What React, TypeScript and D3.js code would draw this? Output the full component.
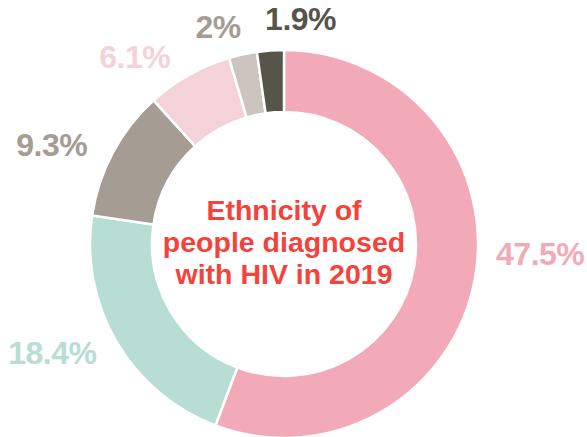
import * as React from "react";
import * as d3 from "d3";

// slice order: clockwise from 12 o'clock
const groups = ["Black African", "White", "Other / mixed", "Asian", "Black Caribbean", "Black other"];
const shares = [47.5, 18.4, 9.3, 6.1, 2, 1.9];
const labels = ["47.5%", "18.4%", "9.3%", "6.1%", "2%", "1.9%"];
const colors = ["#f2aab9", "#b8ddd3", "#a59c93", "#f3d3d8", "#ccc4be", "#55554c"];
const labelColors = ["#f2aab9", "#b8ddd3", "#a59c93", "#f3d3d8", "#a59c93", "#55554c"];

// hand placement of the labels, relative to the label ring
const labelNudge: [number, number][] = [
  [25, -33],
  [-29, -11],
  [-25, 11],
  [-34, 17],
  [-16, 12],
  [33, 9],
];

const titleLines = ["Ethnicity of", "people diagnosed", "with HIV in 2019"];

const W = 587;
const H = 437;
const FONT = "'Liberation Sans', Arial, Helvetica, sans-serif";

export default function App() {
  React.useEffect(() => {
    document.body.style.margin = "0";
  }, []);

  const cx = 284;
  const cy = 244;
  const outerR = 194;
  const innerR = 132;
  const labelR = 235;

  const pie = d3
    .pie<number>()
    .sort(null)
    .value((d) => d);
  const arcs = pie(shares);

  const arc = d3
    .arc<d3.PieArcDatum<number>>()
    .innerRadius(innerR)
    .outerRadius(outerR);

  const labelArc = d3
    .arc<d3.PieArcDatum<number>>()
    .innerRadius(labelR)
    .outerRadius(labelR);

  return (
    <svg width={W} height={H} style={{ display: "block" }}>
      <g transform={`translate(${cx},${cy})`}>
        {arcs.map((a, i) => (
          <path
            key={groups[i]}
            d={arc(a) ?? undefined}
            fill={colors[i]}
            stroke="#fff"
            strokeWidth={2.5}
            strokeLinejoin="miter"
          />
        ))}

        {arcs.map((a, i) => {
          const [lx, ly] = labelArc.centroid(a);
          return (
            <text
              key={`l-${i}`}
              x={lx + labelNudge[i][0]}
              y={ly + labelNudge[i][1]}
              dy="0.36em"
              textAnchor="middle"
              fill={labelColors[i]}
              fontFamily={FONT}
              fontWeight="bold"
              fontSize={32}
              letterSpacing={-0.5}
            >
              {labels[i]}
            </text>
          );
        })}

        {titleLines.map((line, i) => (
          <text
            key={line}
            x={0}
            y={(i - 1) * 32 + 8}
            textAnchor="middle"
            fill="#f5423b"
            fontFamily={FONT}
            fontWeight="bold"
            fontSize={28.5}
          >
            {line}
          </text>
        ))}
      </g>
    </svg>
  );
}
